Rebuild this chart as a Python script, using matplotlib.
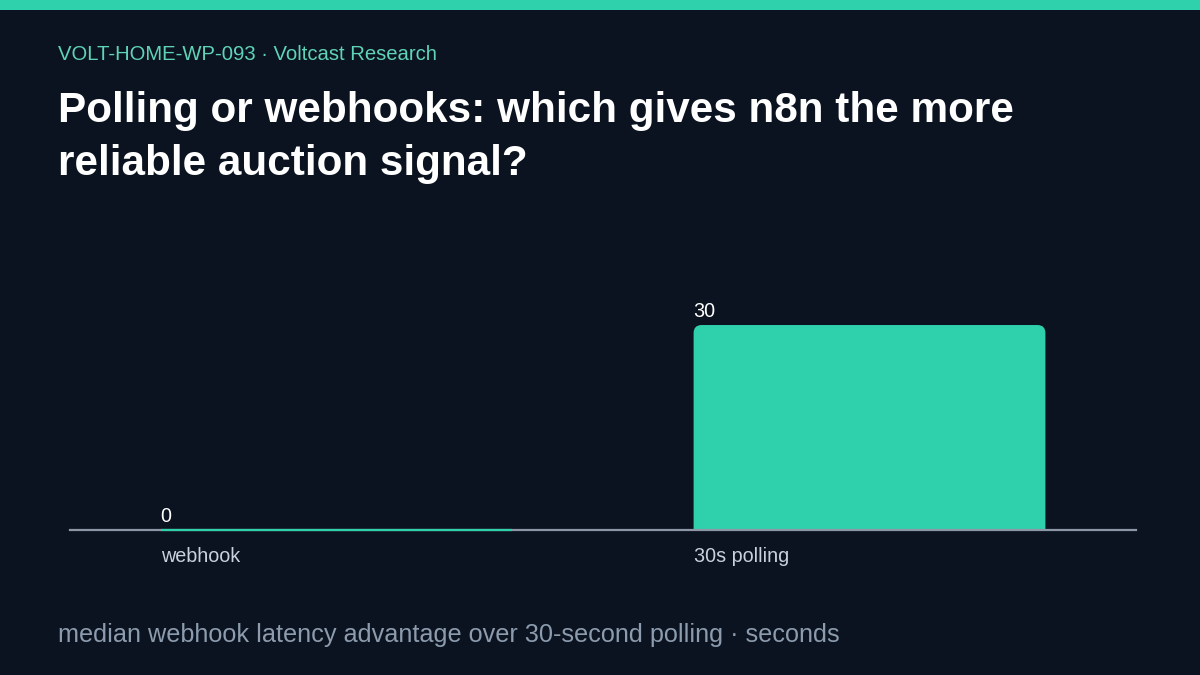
import matplotlib
matplotlib.use("Agg")
import matplotlib.pyplot as plt
from matplotlib.patches import FancyBboxPatch, Rectangle

# data
categories = ["webhook", "30s polling"]
values = [0, 30]
value_labels = ["0", "30"]

kicker = "VOLT-HOME-WP-093 \u00b7 Voltcast Research"
title_lines = ["Polling or webhooks: which gives n8n the more", "reliable auction signal?"]
footer = "median webhook latency advantage over 30-second polling \u00b7 seconds"

BG = "#0a131f"
TEAL = "#2fd0ac"
KICK = "#5fd3b8"
AXIS = "#8d97a6"
TICK = "#c9d1dc"
FOOT = "#8c9bad"

plt.rcParams["font.family"] = ["Liberation Sans", "DejaVu Sans"]

fig = plt.figure(figsize=(12, 6.75), dpi=100)
fig.patch.set_facecolor(BG)

# top accent band
fig.patches.append(Rectangle((0, 1 - 10 / 675), 1, 10 / 675, transform=fig.transFigure,
                             facecolor=TEAL, edgecolor="none"))

fig.text(58 / 1200, 1 - 60 / 675, kicker, color=KICK, fontsize=14.6, va="baseline", ha="left")
for i, line in enumerate(title_lines):
    fig.text(58 / 1200, 1 - (122 + 53 * i) / 675, line, color="white", fontsize=30.4,
             fontweight="bold", va="baseline", ha="left")
fig.text(58 / 1200, 1 - 642 / 675, footer, color=FOOT, fontsize=18.2, va="baseline", ha="left")

ax = fig.add_axes([70 / 1200, 1 - 530 / 675, 1066 / 1200, (530 - 256.7) / 675])
ax.set_facecolor(BG)
ax.set_xlim(-0.5, 1.5)
ax.set_ylim(0, 40)

width = 0.66
x = list(range(len(categories)))
rad_x = 8 / 533
rad_y = 8 / 6.833

for xi, v, lab in zip(x, values, value_labels):
    left = xi - width / 2
    if v > 0:
        p = FancyBboxPatch((left + rad_x, -rad_y * 2), width - 2 * rad_x, v + rad_y,
                           boxstyle=f"round,pad={rad_x}", mutation_aspect=rad_y / rad_x,
                           facecolor=TEAL, edgecolor="none", zorder=2)
        p.set_clip_path(ax.patch)
        ax.add_patch(p)
    else:
        ax.plot([left, left + width], [v, v], color=TEAL, lw=1.6, zorder=4,
                solid_capstyle="butt", clip_on=False)
    ax.annotate(lab, (left, v), xytext=(0, 6), textcoords="offset points",
                ha="left", va="baseline", color="white", fontsize=14.2)

ax.axhline(0, color=AXIS, lw=1.6, zorder=3, clip_on=False)

for s in ax.spines.values():
    s.set_visible(False)
ax.set_yticks([])
ax.set_xticks([xi - width / 2 for xi in x])
ax.set_xticklabels(categories, ha="left", color=TICK, fontsize=14.2)
ax.tick_params(axis="x", length=0, pad=12.5)

fig.savefig("out.png", dpi=100, facecolor=BG)
